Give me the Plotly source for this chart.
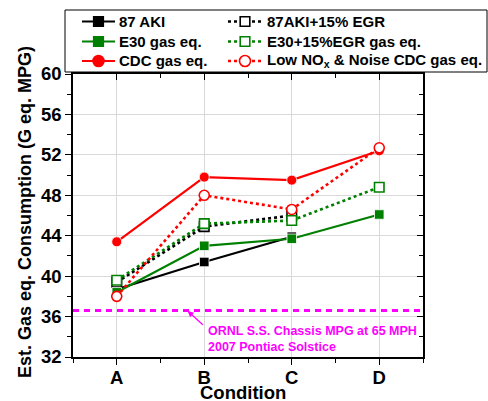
import plotly.graph_objects as go

# Operating conditions and estimated gasoline-equivalent fuel economy (MPG)
conditions = ["A", "B", "C", "D"]
aki87 = [38.7, 41.4, 43.9, None]
aki87_egr = [39.4, 44.9, 46.0, None]
e30 = [38.4, 43.0, 43.7, 46.1]
e30_egr = [39.6, 45.2, 45.5, 48.8]
cdc = [43.4, 49.8, 49.5, 52.4]
cdc_low_nox = [38.0, 48.0, 46.6, 52.7]
ornl_chassis_mpg = 36.6

y_ticks = [32, 36, 40, 44, 48, 52, 56, 60]

xpos = list(range(len(conditions)))
GREEN = "#008000"
RED = "#FF0000"
MAGENTA = "#FF00FF"
FONT = "Liberation Sans"

# plot-area geometry in pixels (used to place the framed two-column key)
W, H = 488, 401
ML, MR, MT, MB = 73, 65, 74, 44
PW, PH = W - ML - MR, H - MT - MB


def px_x(p):
    return (p - ML) / PW


def px_y(p):
    return (H - MB - p) / PH


# name, values, colour, symbol, dash, filled, key column, key row
series = [
    ("87 AKI", aki87, "black", "square", "solid", True, 0, 0),
    ("87AKI+15% EGR", aki87_egr, "black", "square", "dot", False, 1, 0),
    ("E30 gas eq.", e30, GREEN, "square", "solid", True, 0, 1),
    ("E30+15%EGR gas eq.", e30_egr, GREEN, "square", "dot", False, 1, 1),
    ("CDC gas eq.", cdc, RED, "circle", "solid", True, 0, 2),
    ("Low NO<sub>x</sub> & Noise CDC gas eq.", cdc_low_nox, RED, "circle", "dot", False, 1, 2),
]

fig = go.Figure()

for name, values, color, symbol, dash, filled, _, _ in series:
    fig.add_trace(go.Scatter(
        x=xpos, y=values, name=name, mode="lines+markers", showlegend=False,
        line=dict(color=color, width=2.2 if dash == "solid" else 2.6, dash=dash),
        marker=dict(
            symbol=symbol, size=10 if symbol == "circle" else 9.5,
            color=color if filled else "white",
            line=dict(color="white" if filled else color, width=0.8 if filled else 1.6),
        ),
    ))

# Reference chassis-dyno fuel economy
fig.add_shape(type="line", xref="paper", yref="y", x0=0, x1=1,
              y0=ornl_chassis_mpg, y1=ornl_chassis_mpg,
              line=dict(color=MAGENTA, width=3, dash="6px,5px"), layer="above")

fig.add_annotation(x=0.81, y=ornl_chassis_mpg - 0.05, ax=1.0, ay=35.05,
                   axref="x", ayref="y", xref="x", yref="y", text="",
                   showarrow=True, arrowhead=2, arrowsize=1, arrowwidth=1.2,
                   arrowcolor=MAGENTA)
fig.add_annotation(x=1.02, y=35.45, xref="x", yref="y", xanchor="left", yanchor="top",
                   align="left", showarrow=False,
                   text="ORNL S.S. Chassis MPG at 65 MPH<br>2007 Pontiac Solstice",
                   font=dict(family=FONT, size=12.5, color=MAGENTA, weight="bold"))

# Framed key: two columns, three rows
fig.add_shape(type="rect", xref="paper", yref="paper", x0=px_x(65), x1=px_x(487),
              y0=px_y(72), y1=px_y(10), fillcolor="white",
              line=dict(color="black", width=1), layer="above")

col_line = [(82, 115), (228, 262)]
col_text = [117, 265]
row_y = [21.5, 41.5, 61]
for name, _, color, symbol, dash, filled, col, row in series:
    yp = px_y(row_y[row])
    x0, x1 = col_line[col]
    fig.add_shape(type="line", xref="paper", yref="paper", x0=px_x(x0), x1=px_x(x1),
                  y0=yp, y1=yp, layer="above",
                  line=dict(color=color, width=2.2 if dash == "solid" else 2.6, dash=dash))
    half = 5.5 if symbol == "circle" else 4.8
    fig.add_shape(type="circle" if symbol == "circle" else "rect",
                  xref="paper", yref="paper", xsizemode="pixel", ysizemode="pixel",
                  xanchor=px_x((x0 + x1) / 2), yanchor=yp,
                  x0=-half, x1=half, y0=-half, y1=half, layer="above",
                  fillcolor=color if filled else "white",
                  line=dict(color=color, width=1.6))
    fig.add_annotation(x=px_x(col_text[col]), y=yp, xref="paper", yref="paper",
                       xanchor="left", yanchor="middle", showarrow=False, text=name,
                       font=dict(family=FONT, size=15, color="black", weight="bold"))

# Axis titles
fig.add_annotation(x=px_x(243), y=px_y(392), xref="paper", yref="paper", showarrow=False,
                   text="Condition", xanchor="center", yanchor="middle",
                   font=dict(family=FONT, size=18.5, color="black", weight="bold"))
fig.add_annotation(x=px_x(25), y=px_y(212), xref="paper", yref="paper", showarrow=False,
                   text="Est. Gas eq. Consumption (G eq. MPG)", textangle=-90,
                   xanchor="center", yanchor="middle",
                   font=dict(family=FONT, size=18, color="black", weight="bold"))

axis_font = dict(family=FONT, size=18.5, color="black", weight="bold")

fig.update_layout(
    width=W, height=H,
    margin=dict(l=ML, r=MR, t=MT, b=MB),
    plot_bgcolor="white", paper_bgcolor="white",
    showlegend=False,
    xaxis=dict(
        range=[-0.5, 3.5], tickvals=xpos, ticktext=conditions, automargin=False,
        showline=True, linecolor="black", linewidth=1.5, mirror=True,
        ticks="outside", ticklen=6, tickwidth=1.2, tickcolor="black", ticklabelstandoff=-3,
        minor=dict(dtick=0.5, tick0=-0.5, ticks="outside", ticklen=4, tickcolor="black", showgrid=False),
        showgrid=True, gridcolor="#d9d9d9", gridwidth=1,
        tickfont=axis_font, zeroline=False,
    ),
    yaxis=dict(
        range=[32, 60], tickvals=y_ticks, automargin=False,
        showline=True, linecolor="black", linewidth=1.5, mirror=True,
        ticks="outside", ticklen=6, tickwidth=1.2, tickcolor="black",
        minor=dict(dtick=2, tick0=32, ticks="outside", ticklen=4, tickcolor="black", showgrid=False),
        showgrid=True, gridcolor="#d9d9d9", gridwidth=1,
        tickfont=axis_font, zeroline=False,
    ),
    xaxis2=dict(overlaying="x", side="top", range=[-0.5, 3.5], tickvals=xpos, automargin=False,
                showticklabels=False, ticks="inside", ticklen=6, tickcolor="black", showgrid=False,
                minor=dict(dtick=0.5, tick0=-0.5, ticks="inside", ticklen=4, tickcolor="black"), zeroline=False),
    yaxis2=dict(overlaying="y", side="right", range=[32, 60], tickvals=y_ticks, automargin=False,
                showticklabels=False, ticks="inside", ticklen=6, tickcolor="black", showgrid=False,
                minor=dict(dtick=2, tick0=32, ticks="inside", ticklen=4, tickcolor="black"), zeroline=False),
)

# invisible trace so the mirrored tick axes are drawn
fig.add_trace(go.Scatter(x=[None], y=[None], xaxis="x2", yaxis="y2", showlegend=False, hoverinfo="skip"))

fig.write_html("out.html")
